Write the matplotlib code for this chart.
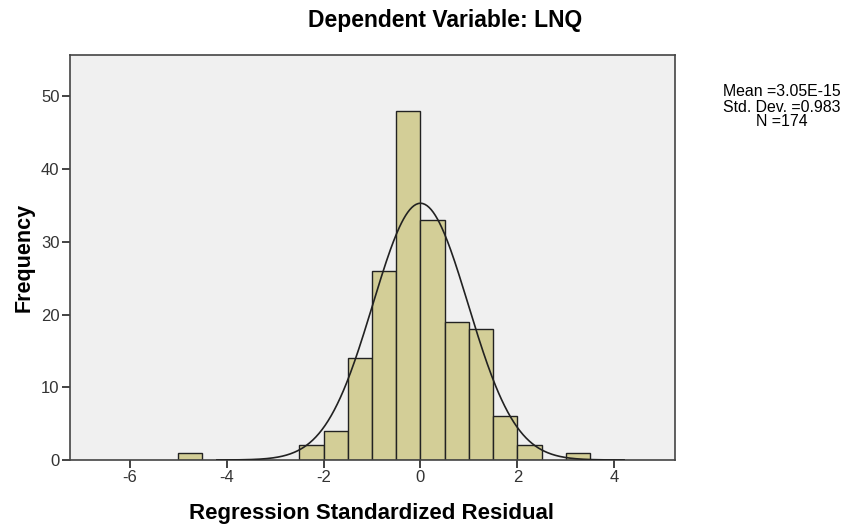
import numpy as np
import matplotlib
matplotlib.use("Agg")
import matplotlib.pyplot as plt

# Histogram of regression standardized residuals (bin width 0.5)
bin_left = [-5.0, -2.5, -2.0, -1.5, -1.0, -0.5, 0.0, 0.5, 1.0, 1.5, 2.0, 3.0]
counts = [1, 2, 4, 14, 26, 48, 33, 19, 18, 6, 2, 1]
bin_width = 0.5
mean_val = 3.05e-15
std_val = 0.983
n_obs = 174

x_ticks = [-6, -4, -2, 0, 2, 4]
y_ticks = [0, 10, 20, 30, 40, 50]

plt.rcParams["font.family"] = ["Liberation Sans", "DejaVu Sans"]
plt.rcParams["axes.unicode_minus"] = False

fig = plt.figure(figsize=(8.49, 5.31), dpi=100)
ax = fig.add_axes([70 / 849, 1 - 460 / 531, 605 / 849, 405 / 531])
ax.set_facecolor("#F0F0F0")

ax.bar(bin_left, counts, width=bin_width, align="edge",
       color="#D3CE97", edgecolor="#222222", linewidth=1.0, zorder=2)

# fitted normal curve scaled to counts
xs = np.linspace(-4.2, 4.2, 400)
pdf = np.exp(-0.5 * ((xs - mean_val) / std_val) ** 2) / (std_val * np.sqrt(2 * np.pi))
ax.plot(xs, pdf * n_obs * bin_width, color="#222222", linewidth=1.2, zorder=3)

ax.set_xlim(-7.23, 5.25)
ax.set_ylim(0, 55.7)
ax.set_xticks(x_ticks)
ax.set_yticks(y_ticks)
ax.tick_params(direction="out", length=6, width=1.2, colors="#222222",
               labelsize=12, labelcolor="#333333", pad=1.5)
for s in ax.spines.values():
    s.set_color("#444444")
    s.set_linewidth(1.2)

ax.set_xlabel("Regression Standardized Residual", fontsize=16, fontweight="bold")
ax.xaxis.set_label_coords(0.498, -0.131)
ax.set_ylabel("Frequency", fontsize=15.5, fontweight="bold")
ax.yaxis.set_label_coords(-0.076, 0.499)
for lbl in (ax.xaxis.label, ax.yaxis.label):
    lbl.set_va("center")

fig.text(445 / 849, 1 - 20 / 531, "Dependent Variable: LNQ", ha="center", va="center",
         fontsize=16.5, fontweight="bold")

fig.text(782 / 849, 1 - 107 / 531,
         f"Mean ={mean_val:.2E}\nStd. Dev. ={std_val}\nN ={n_obs}",
         ha="center", va="center", fontsize=11.4, linespacing=1.0)

fig.savefig("out.png", dpi=100)
